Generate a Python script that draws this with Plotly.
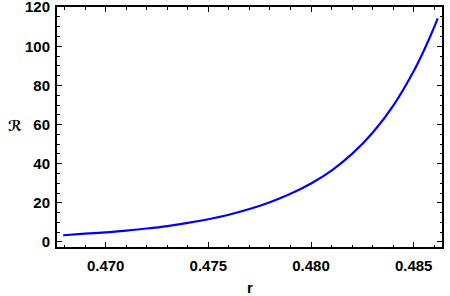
import plotly.graph_objects as go

r_vals = [0.46793, 0.4690, 0.4700, 0.4710, 0.4720, 0.4730, 0.4740, 0.4750,
          0.4760, 0.4770, 0.4780, 0.4790, 0.4800, 0.4810, 0.4820, 0.4830,
          0.4840, 0.4850, 0.4855, 0.4860, 0.48617]
R_vals = [3.4, 4.2, 4.9, 5.8, 6.85, 8.1, 9.7, 11.6,
          13.9, 16.8, 20.3, 24.6, 29.9, 36.5, 45.0, 55.8,
          69.6, 87.3, 97.9, 109.8, 114.3]

x_ticks = [0.470, 0.475, 0.480, 0.485]
y_ticks = [0, 20, 40, 60, 80, 100, 120]

W, H = 450, 296
ML, MR, MT, MB = 57, 8, 7, 49
pw, ph = W - ML - MR, H - MT - MB

tickfont = dict(family="Liberation Sans", size=15, color="black", weight="bold")

fig = go.Figure()
fig.add_trace(go.Scatter(x=r_vals, y=R_vals, mode="lines",
                         line=dict(color="rgb(0,0,255)", width=2.2, shape="spline", smoothing=1),
                         hoverinfo="skip"))

axis_common = dict(ticks="inside", ticklen=5, tickwidth=1.2, tickcolor="black",
                   showline=True, linecolor="black", linewidth=2, mirror="ticks",
                   showgrid=False, zeroline=False, tickfont=tickfont, automargin=False,
                   ticklabeloverflow="allow")

fig.update_layout(
    width=W, height=H,
    margin=dict(l=ML, r=MR, t=MT, b=MB),
    paper_bgcolor="white", plot_bgcolor="white",
    showlegend=False,
    xaxis=dict(range=[0.46763, 0.48638], tickvals=x_ticks,
               ticktext=[f"{v:.3f}" for v in x_ticks], ticklabelstandoff=4,
               minor=dict(dtick=0.001, tick0=0.470, ticks="inside", ticklen=2.5,
                          tickwidth=1, tickcolor="black", showgrid=False),
               **axis_common),
    yaxis=dict(range=[-2.6, 120.1], tickvals=y_ticks, ticklabelstandoff=2,
               minor=dict(dtick=5, tick0=0, ticks="inside", ticklen=2.5,
                          tickwidth=1, tickcolor="black", showgrid=False),
               **axis_common),
    annotations=[
        dict(text="ℛ", x=(15 - ML) / pw, y=(H - MB - 126) / ph, xref="paper", yref="paper",
             xanchor="center", yanchor="middle", showarrow=False,
             font=dict(family="DejaVu Sans", size=15, color="black", weight="bold")),
        dict(text="r", x=(249.5 - ML) / pw, y=(H - MB - 287) / ph, xref="paper", yref="paper",
             xanchor="center", yanchor="middle", showarrow=False, font=tickfont),
    ],
)

fig.write_html("out.html", config={"displayModeBar": False},
               post_script="document.body.style.margin='0';document.body.style.padding='0';")
